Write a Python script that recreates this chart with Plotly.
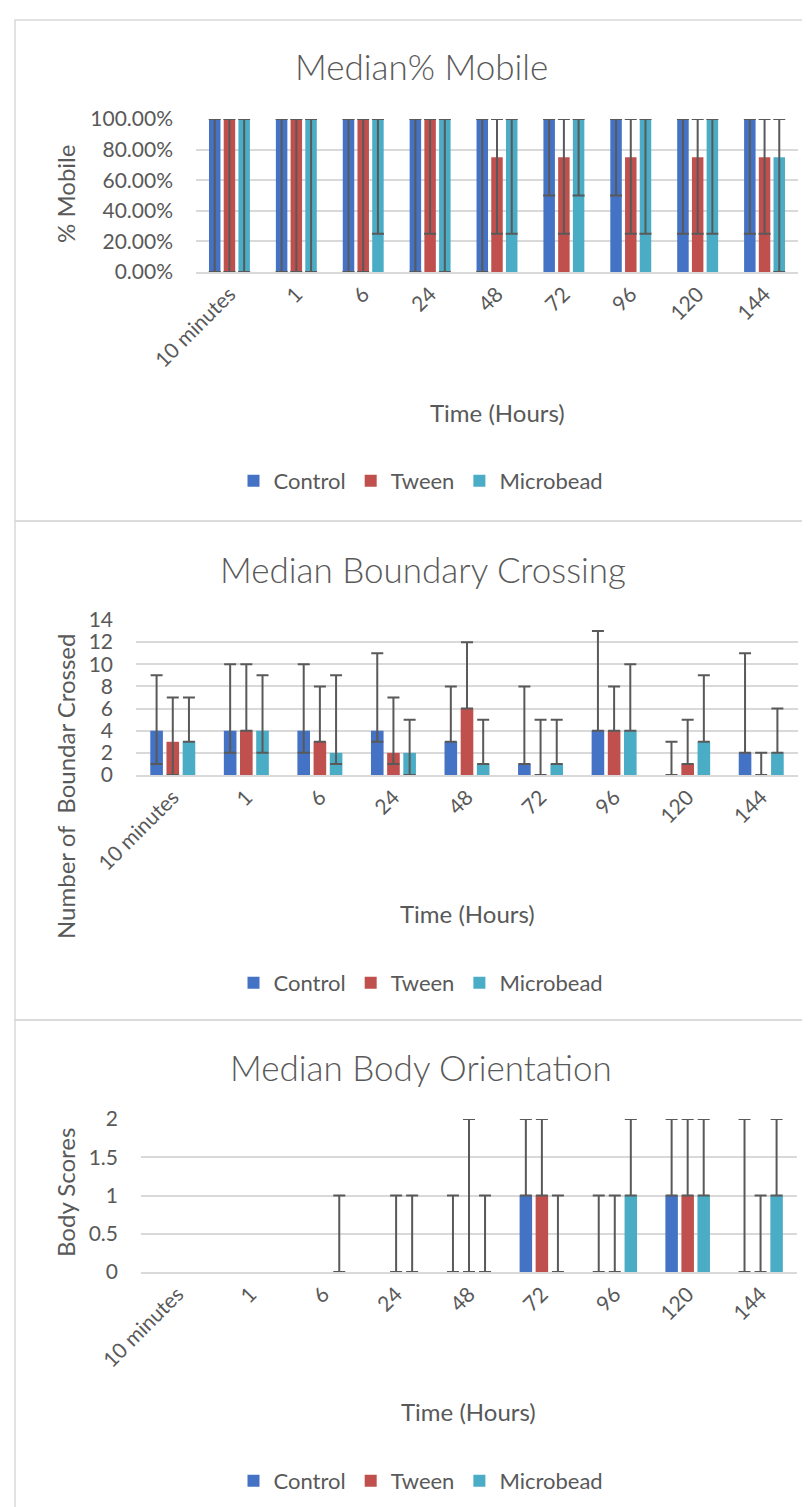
import plotly.graph_objects as go

# ---------------- data ----------------
categories = ["10 minutes", "1", "6", "24", "48", "72", "96", "120", "144"]
series_names = ["Control", "Tween", "Microbead"]
series_colors = ["#4472C4", "#C0504D", "#4BACC6"]

# Chart 1: Median % Mobile (fractions of 1)
mobile_control = [1.00, 1.00, 1.00, 1.00, 1.00, 1.00, 1.00, 1.00, 1.00]
mobile_tween = [1.00, 1.00, 1.00, 1.00, 0.75, 0.75, 0.75, 0.75, 0.75]
mobile_microbead = [1.00, 1.00, 1.00, 1.00, 1.00, 1.00, 1.00, 1.00, 0.75]
mobile_control_min = [0.00, 0.00, 0.00, 0.00, 0.00, 0.50, 0.50, 0.25, 0.25]
mobile_tween_min = [0.00, 0.00, 0.00, 0.25, 0.25, 0.25, 0.25, 0.25, 0.25]
mobile_microbead_min = [0.00, 0.00, 0.25, 0.00, 0.25, 0.50, 0.25, 0.25, 0.00]
mobile_control_max = [1.00, 1.00, 1.00, 1.00, 1.00, 1.00, 1.00, 1.00, 1.00]
mobile_tween_max = [1.00, 1.00, 1.00, 1.00, 1.00, 1.00, 1.00, 1.00, 1.00]
mobile_microbead_max = [1.00, 1.00, 1.00, 1.00, 1.00, 1.00, 1.00, 1.00, 1.00]

# Chart 2: Median Boundary Crossing
cross_control = [4, 4, 4, 4, 3, 1, 4, 0, 2]
cross_tween = [3, 4, 3, 2, 6, 0, 4, 1, 0]
cross_microbead = [3, 4, 2, 2, 1, 1, 4, 3, 2]
cross_control_min = [1, 2, 2, 3, 3, 1, 4, 0, 2]
cross_tween_min = [0, 4, 3, 1, 6, 0, 4, 1, 0]
cross_microbead_min = [3, 2, 1, 0, 1, 1, 4, 3, 2]
cross_control_max = [9, 10, 10, 11, 8, 8, 13, 3, 11]
cross_tween_max = [7, 10, 8, 7, 12, 5, 8, 5, 2]
cross_microbead_max = [7, 9, 9, 5, 5, 5, 10, 9, 6]

# Chart 3: Median Body Orientation
body_control = [0, 0, 0, 0, 0, 1, 0, 1, 0]
body_tween = [0, 0, 0, 0, 0, 1, 0, 1, 0]
body_microbead = [0, 0, 0, 0, 0, 0, 1, 1, 1]
body_control_min = [0, 0, 0, 0, 0, 1, 0, 1, 0]
body_tween_min = [0, 0, 0, 0, 0, 1, 0, 1, 0]
body_microbead_min = [0, 0, 0, 0, 0, 0, 1, 1, 1]
body_control_max = [0, 0, 0, 0, 1, 2, 1, 2, 2]
body_tween_max = [0, 0, 0, 1, 2, 2, 1, 2, 1]
body_microbead_max = [0, 0, 1, 1, 1, 1, 2, 2, 2]

# ---------------- styling ----------------
W, H = 810, 1507
FONT = "Lato, 'Open Sans', sans-serif"
TXT = "#595959"
GRID = "#D9D9D9"


def px_x(p):
    return p / W


def px_y(p):
    return 1 - p / H


fig = go.Figure()

charts = [
    dict(vals=[mobile_control, mobile_tween, mobile_microbead],
         lows=[mobile_control_min, mobile_tween_min, mobile_microbead_min],
         highs=[mobile_control_max, mobile_tween_max, mobile_microbead_max],
         legend="legend"),
    dict(vals=[cross_control, cross_tween, cross_microbead],
         lows=[cross_control_min, cross_tween_min, cross_microbead_min],
         highs=[cross_control_max, cross_tween_max, cross_microbead_max],
         legend="legend2"),
    dict(vals=[body_control, body_tween, body_microbead],
         lows=[body_control_min, body_tween_min, body_microbead_min],
         highs=[body_control_max, body_tween_max, body_microbead_max],
         legend="legend3"),
]

for ci, ch in enumerate(charts):
    suffix = "" if ci == 0 else str(ci + 1)
    for name, color, v, lo, hi in zip(series_names, series_colors, ch["vals"], ch["lows"], ch["highs"]):
        plus, minus = [], []
        for a, l, h in zip(v, lo, hi):
            p = round(h - a, 6)
            m = round(a - l, 6)
            if p == 0 and m == 0:
                plus.append("NaN")
                minus.append("NaN")
            else:
                plus.append(p)
                minus.append(m)
        fig.add_trace(go.Bar(
            x=categories, y=v, name=name,
            marker=dict(color=color, line=dict(width=0)),
            error_y=dict(type="data", symmetric=False, array=plus, arrayminus=minus,
                         color=TXT, thickness=2, width=6),
            xaxis="x" + suffix, yaxis="y" + suffix,
            legend=ch["legend"],
        ))

# plot-area geometry in pixels: (left, right, top, bottom)
areas = [(188, 790, 111, 264), (128, 790, 612, 767), (133, 789, 1111, 1264)]
yranges = [[0, 1], [0, 14], [0, 2]]
ydticks = [0.2, 2, 0.5]
yformats = [".2%", "", ""]

layout = dict(
    template="none",
    width=W, height=H, margin=dict(l=0, r=0, t=0, b=0, pad=0, autoexpand=False),
    paper_bgcolor="white", plot_bgcolor="white",
    barmode="group", bargap=0.34, bargroupgap=0.22,
    font=dict(family=FONT, color=TXT, size=21),
)

for ci, (l, r, t, b) in enumerate(areas):
    suffix = "" if ci == 0 else str(ci + 1)
    layout["xaxis" + suffix] = dict(
        type="category", categoryorder="array", categoryarray=categories,
        domain=[px_x(l), px_x(r)], anchor="y" + suffix, automargin=False,
        showgrid=False, showline=True, linecolor=GRID, linewidth=1.5, zeroline=False,
        ticks="", tickangle=-45, tickfont=dict(family=FONT, size=21, color=TXT),
        fixedrange=True,
    )
    layout["yaxis" + suffix] = dict(
        domain=[px_y(b), px_y(t)], anchor="x" + suffix, automargin=False,
        range=yranges[ci], dtick=ydticks[ci], tick0=0, tickformat=yformats[ci],
        showgrid=True, gridcolor=GRID, gridwidth=1.5, zeroline=False,
        showline=False, ticks="", ticklabelstandoff=22,
        tickfont=dict(family=FONT, size=21, color=TXT), fixedrange=True,
    )

legend_y = [473, 975, 1473]
for ci, ly in enumerate(legend_y):
    key = "legend" if ci == 0 else "legend" + str(ci + 1)
    layout[key] = dict(
        orientation="h", x=px_x(413), xanchor="center", y=px_y(ly), yanchor="middle",
        font=dict(family=FONT, size=22, color=TXT), bgcolor="rgba(0,0,0,0)",
        itemclick=False, itemdoubleclick=False,
    )

fig.update_layout(**layout)

# titles, axis titles
titles = [("Median% Mobile", 414, 58), ("Median Boundary Crossing", 415, 561), ("Median Body Orientation", 413, 1059)]
for text, x, y in titles:
    fig.add_annotation(text=text, x=px_x(x), y=px_y(y), xref="paper", yref="paper",
                       xanchor="center", yanchor="middle", showarrow=False,
                       font=dict(family=FONT, size=35, color=TXT, weight=300))

xtitles = [(489, 404), (459, 905), (461, 1403)]
for x, y in xtitles:
    fig.add_annotation(text="Time (Hours)", x=px_x(x), y=px_y(y), xref="paper", yref="paper",
                       xanchor="center", yanchor="middle", showarrow=False,
                       font=dict(family=FONT, size=24, color=TXT))

ytitles = [("% Mobile", 57, 186), ("Number of  Boundar Crossed", 57, 778), ("Body Scores", 57, 1185)]
for text, x, y in ytitles:
    fig.add_annotation(text=text, x=px_x(x), y=px_y(y), xref="paper", yref="paper",
                       xanchor="center", yanchor="middle", showarrow=False, textangle=-90,
                       font=dict(family=FONT, size=24, color=TXT))

# panel borders
panels = [(7, 12, 513), (7, 513, 1012), (7, 1012, 1520)]
for x0, y0, y1 in panels:
    fig.add_shape(type="rect", xref="paper", yref="paper",
                  x0=px_x(x0), x1=px_x(830), y0=px_y(y1), y1=px_y(y0),
                  line=dict(color=GRID, width=1.5), fillcolor="rgba(0,0,0,0)", layer="below")

fig.write_html("out.html")
